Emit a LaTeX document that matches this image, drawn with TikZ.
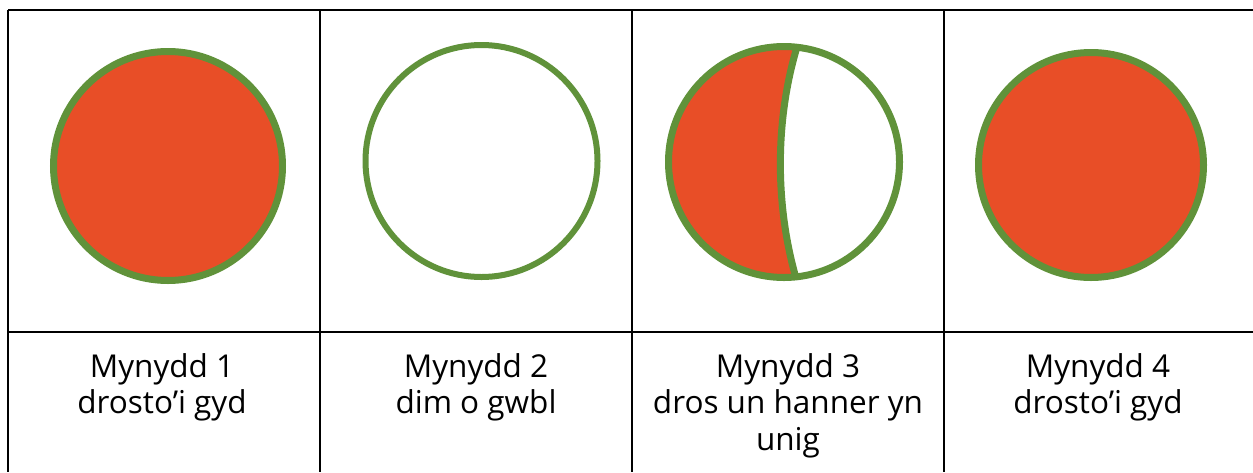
\documentclass[tikz,border=0pt]{standalone}
\usepackage{fontspec}
\setmainfont{Open Sans}
\definecolor{moonred}{RGB}{232,78,39}
\definecolor{moongreen}{RGB}{96,146,58}
\begin{document}
\begin{tikzpicture}[x=1pt,y=-1pt,
  rule/.style={line width=2.6pt,black},
  ring/.style={draw=moongreen,line width=7pt},
  caption/.style={align=center,anchor=base,inner sep=0pt,font=\fontsize{31.5pt}{36.7pt}\selectfont}]
\useasboundingbox (0,0) rectangle (1253,472);
% table rules
\coordinate (tl) at (8,10);
\coordinate (tr) at (1253,10);
\coordinate (ml) at (8,332);
\coordinate (mr) at (1253,332);
\coordinate (bl) at (8,472);
\draw[rule] (tl) -- (tr);
\draw[rule] (tl) -- (bl);
\draw[rule] (ml) -- (mr);
\foreach \x in {320,632,944}{\draw[rule] (\x,10) -- (\x,472);}
% circle 1
\coordinate (c1) at (168,166);
\draw[ring,fill=moonred] (c1) circle[radius=114.5];
% circle 2
\coordinate (c2) at (481.5,161);
\draw[ring,line width=6pt,fill=white] (c2) circle[radius=116];
% circle 3
\coordinate (c3) at (784,162);
\coordinate (t3) at (797,47);
\coordinate (b3) at (796,278);
\fill[moonred] (t3) arc[start angle=-83.6,end angle=-275.9,radius=115.5]
  .. controls (775,205) and (775,120) .. (t3) -- cycle;
\draw[ring] (c3) circle[radius=115.5];
\draw[ring] (t3) .. controls (775,120) and (775,205) .. (b3);
% circle 4
\coordinate (c4) at (1091,165);
\draw[ring,fill=moonred] (c4) circle[radius=112.5];
% captions (base anchor = baseline of last line)
\node[caption] (l1) at (162,413.7) {Mynydd 1\\drosto’i gyd};
\node[caption] (l2) at (476,413.7) {Mynydd 2\\dim o gwbl};
\node[caption] (l3) at (788,450.4) {Mynydd 3\\dros un hanner yn\\unig};
\node[caption] (l4) at (1098,413.7) {Mynydd 4\\drosto’i gyd};
\end{tikzpicture}
\end{document}
